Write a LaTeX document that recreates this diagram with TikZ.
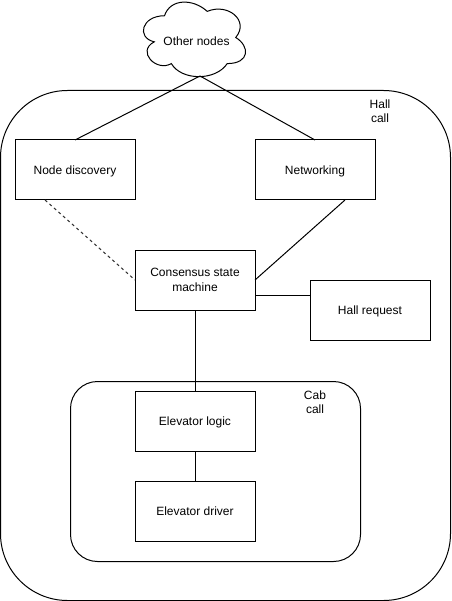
\documentclass[tikz,border=0pt]{standalone}
\usepackage{fontspec}
\setmainfont{Liberation Sans}
\usetikzlibrary{calc}
\begin{document}
\begin{tikzpicture}[x=1pt,y=-1pt,
  lw/.style={line width=1pt},
  box/.style={lw,draw,fill=white,minimum width=120pt,minimum height=60pt,inner sep=0pt,outer sep=0pt,align=center,font=\fontsize{12}{14.4}\selectfont},
  oneline/.style={text height=10.9pt,text depth=2.5pt},
  container/.style={lw,draw,inner sep=0pt,outer sep=0pt},
  lbl/.style={align=center,inner sep=0pt,font=\fontsize{12}{14.4}\selectfont},
  conn/.style={lw},
  dashconn/.style={lw,dash pattern=on 3pt off 3pt,draw=black!80}]
\fill[white] (0,0) rectangle (451,601);
\useasboundingbox (0,0) rectangle (451,601);
% containers
\node[container,minimum width=450pt,minimum height=510pt,rounded corners=67pt] (hall) at (225.5,345.5) {};
\node[container,minimum width=290pt,minimum height=180pt,rounded corners=27pt] (cab) at (215.5,471.5) {};
\node[lbl] (halllbl) at (380,111) {Hall\\call};
\node[lbl] (cablbl) at (315,402) {Cab\\call};
% cloud
\begin{scope}[shift={(136,-6)},x=114pt,y=-87pt]
\draw[lw,fill=white] (0.25,0.25) .. controls (0.05,0.25) and (0,0.5) .. (0.16,0.55)
  .. controls (0,0.66) and (0.18,0.9) .. (0.31,0.8)
  .. controls (0.4,1) and (0.7,1) .. (0.8,0.8)
  .. controls (1,0.8) and (1,0.6) .. (0.875,0.5)
  .. controls (1,0.3) and (0.8,0.1) .. (0.625,0.2)
  .. controls (0.5,0.05) and (0.3,0.05) .. (0.25,0.25) -- cycle;
\end{scope}
\node[lbl,oneline] (other) at (196.5,41) {Other nodes};
\coordinate (cb) at (200,76);
% boxes
\node[box,oneline] (nd) at (75,170) {Node discovery};
\node[box,oneline] (nw) at (315,170) {Networking};
\node[box] (cs) at (195,280) {Consensus state\\machine};
\node[box,oneline] (hr) at (370,310) {Hall request};
\node[box,oneline] (el) at (195,421) {Elevator logic};
\node[box,oneline] (ed) at (195,511) {Elevator driver};
% connectors
\draw[conn] (cb) -- (nd.north);
\draw[conn] (cb) -- (nw.north);
\draw[dashconn] ($(nd.south west)!0.25!(nd.south east)$) -- (cs.west);
\draw[conn] ($(nw.south west)!0.75!(nw.south east)$) -- (cs.east);
\coordinate (m1) at ($(cs.south east)!0.25!(cs.north east)$);
\draw[conn] (m1) -- (m1 -| hr.west);
\draw[conn] (cs.south) -- (el.north);
\draw[conn] (el.south) -- (ed.north);
\end{tikzpicture}
\end{document}
